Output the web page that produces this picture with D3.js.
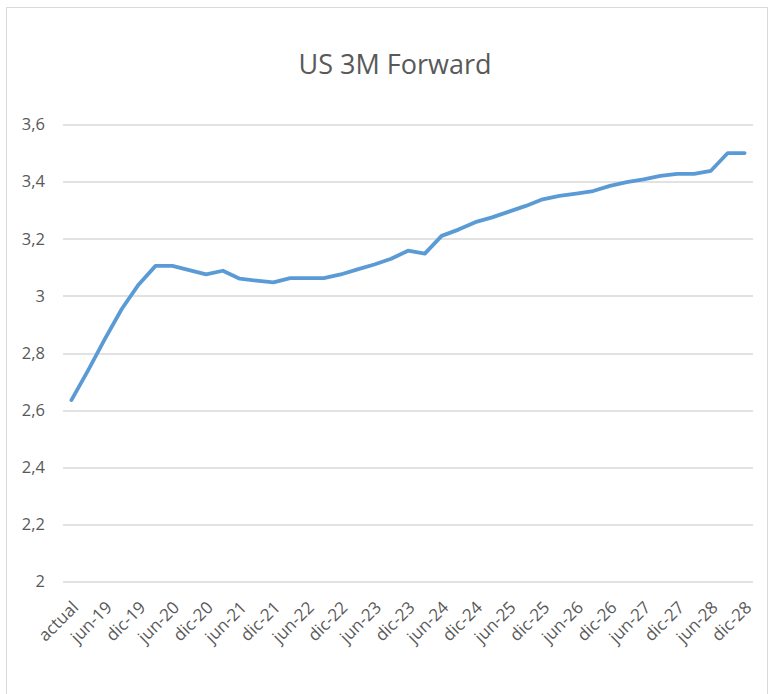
<!DOCTYPE html>
<html>
<head>
<meta charset="utf-8">
<script src="https://cdn.jsdelivr.net/npm/d3@7"></script>
<style>
  html, body { margin: 0; padding: 0; background: #ffffff; }
  svg { display: block; }
</style>
</head>
<body>
<div id="chart"></div>
<script>
// ---- data ----
const title = "US 3M Forward";
const categories = [
  "actual","mar-19","jun-19","sep-19","dic-19",
  "mar-20","jun-20","sep-20","dic-20",
  "mar-21","jun-21","sep-21","dic-21",
  "mar-22","jun-22","sep-22","dic-22",
  "mar-23","jun-23","sep-23","dic-23",
  "mar-24","jun-24","sep-24","dic-24",
  "mar-25","jun-25","sep-25","dic-25",
  "mar-26","jun-26","sep-26","dic-26",
  "mar-27","jun-27","sep-27","dic-27",
  "mar-28","jun-28","sep-28","dic-28"
];
const values = [
  2.635, 2.74, 2.85, 2.955, 3.04,
  3.105, 3.105, 3.09, 3.075,
  3.088, 3.06, 3.053, 3.047,
  3.062, 3.062, 3.062, 3.075,
  3.093, 3.11, 3.13, 3.158,
  3.148, 3.21, 3.232, 3.258,
  3.275, 3.295, 3.315, 3.338,
  3.35, 3.358, 3.367, 3.385,
  3.398, 3.408, 3.42, 3.427,
  3.427, 3.438, 3.5, 3.5
];
const yTicks = [2, 2.2, 2.4, 2.6, 2.8, 3, 3.2, 3.4, 3.6];
const yDomain = [2, 3.6];

// ---- layout ----
const W = 774, H = 694;
const margin = { top: 124.5, right: 21, bottom: H - 581.5, left: 63 };
const iw = W - margin.left - margin.right;
const ih = H - margin.top - margin.bottom;

const svg = d3.select("#chart").append("svg")
  .attr("width", W).attr("height", H);

// chart area border
svg.append("rect")
  .attr("x", 6.5).attr("y", 7.5)
  .attr("width", W - 13).attr("height", H + 10)
  .attr("fill", "#ffffff")
  .attr("stroke", "#d9d9d9").attr("stroke-width", 1);

const fontFam = "'Open Sans', 'Noto Sans', sans-serif";
const textCol = "#595959";

svg.append("text")
  .attr("x", 395).attr("y", 74)
  .attr("text-anchor", "middle")
  .attr("font-family", fontFam)
  .attr("font-size", 27)
  .attr("fill", textCol)
  .text(title);

const g = svg.append("g").attr("transform", `translate(${margin.left},${margin.top})`);

const x = d3.scaleBand().domain(categories).range([0, iw]).padding(0);
const y = d3.scaleLinear().domain(yDomain).range([ih, 0]);

const fmt = v => d3.format("~g")(v).replace(".", ",");

// grid lines
g.append("g")
  .selectAll("line")
  .data(yTicks)
  .join("line")
  .attr("x1", 0).attr("x2", iw)
  .attr("y1", d => Math.round(y(d)) + 0.5)
  .attr("y2", d => Math.round(y(d)) + 0.5)
  .attr("stroke", "#d9d9d9").attr("stroke-width", 1.3);

// y axis labels
const yAxis = d3.axisLeft(y).tickValues(yTicks).tickFormat(fmt).tickSize(0).tickPadding(18);
const ya = g.append("g").call(yAxis);
ya.select(".domain").remove();
ya.selectAll("text")
  .attr("font-family", fontFam)
  .attr("font-size", 16.5)
  .attr("fill", textCol);

// x axis labels (every second category)
const xAxis = d3.axisBottom(x)
  .tickValues(categories.filter((d, i) => i % 2 === 0))
  .tickSize(0).tickPadding(0);
const xa = g.append("g").attr("transform", `translate(0,${ih})`).call(xAxis);
xa.select(".domain").remove();
xa.selectAll("text")
  .attr("font-family", fontFam)
  .attr("font-size", 17)
  .attr("fill", textCol)
  .attr("text-anchor", "end")
  .attr("dy", null)
  .attr("transform", "translate(8,27) rotate(-45)");

// line
const line = d3.line()
  .x((d, i) => x(categories[i]) + x.bandwidth() / 2)
  .y(d => y(d));

g.append("path")
  .datum(values)
  .attr("d", line)
  .attr("fill", "none")
  .attr("stroke", "#5b9bd5")
  .attr("stroke-width", 3.8)
  .attr("stroke-linejoin", "round")
  .attr("stroke-linecap", "round");
</script>
</body>
</html>
